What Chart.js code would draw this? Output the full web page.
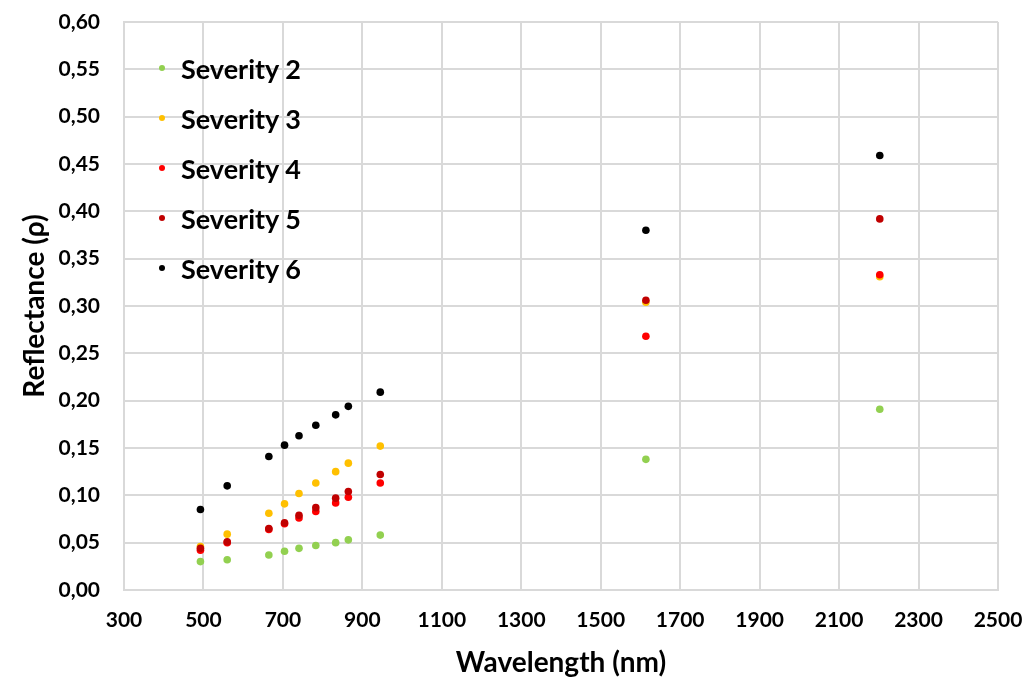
<!DOCTYPE html>
<html lang="en">
<head>
    <meta charset="UTF-8">
    <title>Reflectance by severity</title>
    <script src="https://cdn.jsdelivr.net/npm/chart.js"></script>
    <style>
        body { margin: 0; background: #fff; }
        #wrap { position: relative; width: 1026px; height: 680px; }
        #legend {
            position: absolute; left: 159px; top: 43px;
            font-family: Lato, "Open Sans", sans-serif; font-weight: bold; font-size: 27px; color: #000;
        }
        .item { height: 50px; display: flex; align-items: center; }
        .item .dot { width: 6px; height: 6px; border-radius: 50%; margin-right: 16px; }
    </style>
</head>
<body>
<div id="wrap">
    <canvas id="chart" width="1026" height="680"></canvas>
    <div id="legend"></div>
</div>
<script>
    // Sentinel-2 band centres (nm)
    const wavelengths = [492.4, 559.8, 664.6, 704.1, 740.5, 782.8, 832.8, 864.7, 945.1, 1613.7, 2202.4];

    const severityNames = ["Severity 2", "Severity 3", "Severity 4", "Severity 5", "Severity 6"];
    const severityColors = ["#92D050", "#FFC000", "#FF0000", "#C00000", "#000000"];

    const sev2 = [0.030, 0.032, 0.037, 0.041, 0.044, 0.047, 0.050, 0.053, 0.058, 0.138, 0.191];
    const sev3 = [0.046, 0.059, 0.081, 0.091, 0.102, 0.113, 0.125, 0.134, 0.152, 0.304, 0.331];
    const sev4 = [0.042, 0.050, 0.064, 0.070, 0.076, 0.083, 0.092, 0.098, 0.113, 0.268, 0.333];
    const sev5 = [0.044, 0.051, 0.065, 0.071, 0.079, 0.087, 0.097, 0.104, 0.122, 0.306, 0.392];
    const sev6 = [0.085, 0.110, 0.141, 0.153, 0.163, 0.174, 0.185, 0.194, 0.209, 0.380, 0.459];

    const xTicks = [300, 500, 700, 900, 1100, 1300, 1500, 1700, 1900, 2100, 2300, 2500];

    const series = [sev2, sev3, sev4, sev5, sev6];
    const font = "Lato, 'Open Sans', sans-serif";

    let datasets = series.map(function(vals, i) {
        return {
            label: severityNames[i],
            data: vals.map((v, j) => ({ x: wavelengths[j], y: v })),
            backgroundColor: severityColors[i],
            borderColor: severityColors[i],
            pointRadius: 3.8,
            pointBorderWidth: 0,
            order: series.length - i
        };
    });

    // html legend inside the plot
    let legendHtml = "";
    severityNames.forEach(function(name, i) {
        legendHtml += "<div class='item'><span class='dot' style='background:" + severityColors[i] + "'></span>" + name + "</div>";
    });
    document.getElementById("legend").innerHTML = legendHtml;

    const ctx = document.getElementById('chart').getContext('2d');
    new Chart(ctx, {
        type: 'scatter',
        data: { datasets: datasets },
        options: {
            responsive: false,
            animation: false,
            layout: { padding: 0 },
            plugins: { legend: { display: false }, tooltip: { enabled: false } },
            scales: {
                x: {
                    min: 300, max: 2500,
                    afterBuildTicks: function(s) { s.ticks = xTicks.map(v => ({ value: v })); },
                    afterFit: function(s) { s.height = 90; s.paddingRight = 28; s.paddingLeft = 0; },
                    grid: { color: '#D9D9D9', lineWidth: 2, drawTicks: false },
                    border: { color: '#D9D9D9', width: 2 },
                    ticks: { padding: 18, maxRotation: 0, color: '#000', font: { family: font, weight: 'bold', size: 21 },
                        callback: v => String(v) },
                    title: { display: true, text: 'Wavelength (nm)', color: '#000', padding: { top: 1, bottom: 0 },
                        font: { family: font, weight: 'bold', size: 28 } }
                },
                y: {
                    min: 0, max: 0.6,
                    afterFit: function(s) { s.width = 124; s.paddingTop = 22; s.paddingBottom = 0; },
                    grid: { color: '#D9D9D9', lineWidth: 2, drawTicks: false },
                    border: { color: '#D9D9D9', width: 2 },
                    ticks: {
                        stepSize: 0.05, padding: 24, color: '#000',
                        font: { family: font, weight: 'bold', size: 21 },
                        callback: v => (Math.round(v * 100) / 100).toFixed(2).replace('.', ',')
                    },
                    title: { display: true, text: 'Reflectance (ρ)', color: '#000', padding: { top: 18, bottom: 0 },
                        font: { family: font, weight: 'bold', size: 28 } }
                }
            }
        }
    });
</script>
</body>
</html>
